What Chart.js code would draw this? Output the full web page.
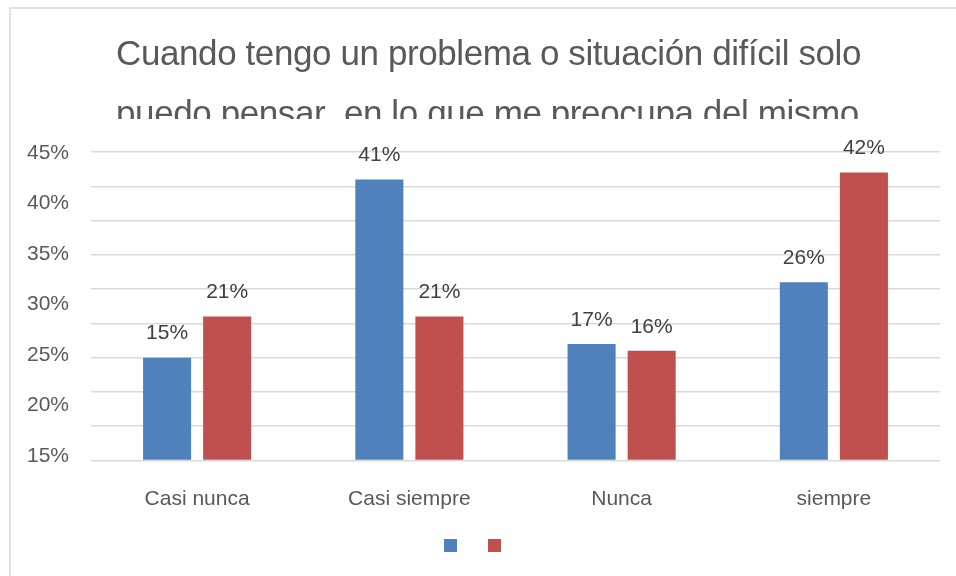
<!DOCTYPE html>
<html lang="es">
<head>
<meta charset="utf-8">
<title>Cuando tengo un problema</title>
<script src="https://cdn.jsdelivr.net/npm/chart.js@4"></script>
<style>
  html, body { margin: 0; padding: 0; background: #fff; }
  #grafico { display: block; }
</style>
</head>
<body>
<canvas id="grafico" width="956" height="576"></canvas>
<script>
const categorias = ['Casi nunca', 'Casi siempre', 'Nunca', 'siempre'];
const serieAzul = [15, 41, 17, 26];
const serieRoja = [21, 21, 16, 42];
const etiquetasEje = [15, 20, 25, 30, 35, 40, 45];
const tituloLineas = [
  'Cuando tengo un problema o situación difícil solo',
  'puedo pensar  en lo que me preocupa del mismo'
];

const FUENTE = "'Liberation Sans', Arial, sans-serif";
const GRIS_TEXTO = '#595959';
const GRIS_LINEA = '#d9d9d9';

Chart.defaults.font.family = FUENTE;

// borde, titulo (recortado) y leyenda sin texto
const decoracion = {
  id: 'decoracion',
  beforeDraw(chart) {
    const ctx = chart.ctx;
    ctx.save();
    ctx.fillStyle = '#fff';
    ctx.fillRect(0, 0, chart.width, chart.height);
    ctx.strokeStyle = GRIS_LINEA;
    ctx.lineWidth = 1.5;
    ctx.strokeRect(10, 8, chart.width + 20, chart.height + 20);

    ctx.beginPath();
    ctx.rect(0, 0, chart.width, 119);
    ctx.clip();
    ctx.fillStyle = GRIS_TEXTO;
    ctx.font = '35px ' + FUENTE;
    ctx.letterSpacing = '-0.4px';
    ctx.textAlign = 'left';
    ctx.textBaseline = 'alphabetic';
    tituloLineas.forEach((linea, i) => ctx.fillText(linea, 116, 65 + i * 60));
    ctx.restore();
  },
  afterDraw(chart) {
    const ctx = chart.ctx;
    ctx.save();
    chart.data.datasets.forEach((ds, i) => {
      ctx.fillStyle = ds.backgroundColor;
      ctx.fillRect(444 + i * 44, 539, 13, 13);
    });
    ctx.restore();
  }
};

// etiquetas de valor sobre las barras
const etiquetasValor = {
  id: 'etiquetasValor',
  afterDatasetsDraw(chart) {
    const ctx = chart.ctx;
    ctx.save();
    ctx.fillStyle = '#404040';
    ctx.font = '21px ' + FUENTE;
    ctx.textAlign = 'center';
    ctx.textBaseline = 'middle';
    chart.data.datasets.forEach((ds, i) => {
      chart.getDatasetMeta(i).data.forEach((barra, j) => {
        ctx.fillText(ds.data[j] + '%', barra.x, barra.y - 24);
      });
    });
    ctx.restore();
  }
};

new Chart(document.getElementById('grafico'), {
  type: 'bar',
  data: {
    labels: categorias,
    datasets: [
      { label: '', data: serieAzul, backgroundColor: '#4f81bd', categoryPercentage: 0.566, barPercentage: 0.8 },
      { label: '', data: serieRoja, backgroundColor: '#c0504d', categoryPercentage: 0.566, barPercentage: 0.8 }
    ]
  },
  options: {
    responsive: false,
    animation: false,
    layout: { padding: { top: 152, right: 16, left: 0, bottom: 0 } },
    plugins: {
      legend: { display: false },
      title: { display: false },
      tooltip: { enabled: false }
    },
    scales: {
      x: {
        grid: { display: false },
        border: { display: false },
        ticks: { color: GRIS_TEXTO, font: { size: 21 }, padding: 18 },
        afterFit: (escala) => { escala.height = 115.5; }
      },
      y: {
        min: 0,
        max: 45,
        ticks: { display: false, stepSize: 5 },
        grid: { color: GRIS_LINEA, lineWidth: 1.5, drawTicks: false },
        border: { display: false },
        afterFit: (escala) => { escala.width = 0; }
      },
      y2: {
        position: 'left',
        min: 14.55,
        max: 45.07,
        afterBuildTicks: (escala) => { escala.ticks = etiquetasEje.map(v => ({ value: v })); },
        ticks: { color: GRIS_TEXTO, font: { size: 21 }, padding: 22, callback: v => v + '%' },
        grid: { display: false, drawTicks: false },
        border: { display: false },
        afterFit: (escala) => { escala.width = 91; }
      }
    }
  },
  plugins: [decoracion, etiquetasValor]
});
</script>
</body>
</html>
